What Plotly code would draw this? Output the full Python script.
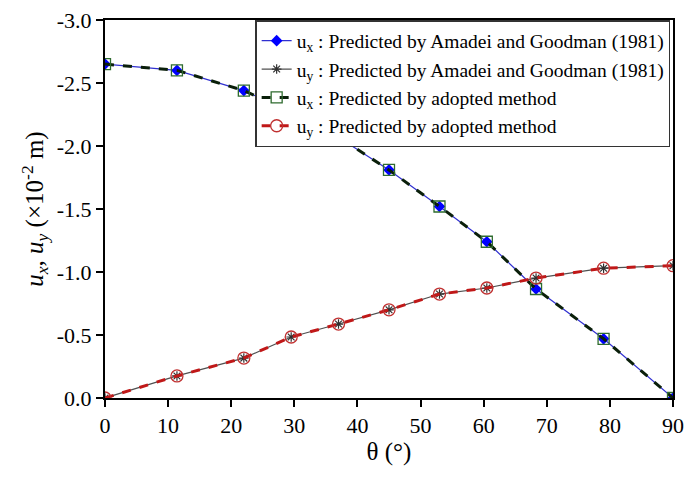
import plotly.graph_objects as go

theta = [0, 11.4, 22, 29.5, 37, 45, 53, 60.5, 68.3, 79, 90]
ux_amadei = [-2.65, -2.60, -2.44, -2.27, -2.07, -1.81, -1.52, -1.24, -0.865, -0.47, 0.0]
uy_amadei = [0.0, -0.175, -0.317, -0.484, -0.587, -0.70, -0.825, -0.873, -0.952, -1.03, -1.05]
ux_adopted = [-2.65, -2.60, -2.44, -2.27, -2.07, -1.81, -1.52, -1.24, -0.865, -0.47, 0.0]
uy_adopted = [0.0, -0.175, -0.317, -0.484, -0.587, -0.70, -0.825, -0.873, -0.952, -1.03, -1.05]

x_ticks = list(range(0, 91, 10))
y_ticks = [0.0, -0.5, -1.0, -1.5, -2.0, -2.5, -3.0]
y_tick_text = ["0.0", "-0.5", "-1.0", "-1.5", "-2.0", "-2.5", "-3.0"]

FONT = "Liberation Serif"

fig = go.Figure()
fig.add_trace(go.Scatter(
    x=theta, y=ux_amadei, mode="lines+markers",
    name="u<sub>x</sub> : Predicted by Amadei and Goodman (1981)",
    line=dict(color="#3030d0", width=1.2),
    marker=dict(symbol="diamond", size=9, color="#0000ff"),
))
fig.add_trace(go.Scatter(
    x=theta, y=uy_amadei, mode="lines+markers",
    name="u<sub>y</sub> : Predicted by Amadei and Goodman (1981)",
    line=dict(color="#505050", width=1.2),
    marker=dict(symbol="asterisk-open", size=8, color="#303030", line=dict(width=1.2, color="#303030")),
))
fig.add_trace(go.Scatter(
    x=theta, y=ux_adopted, mode="lines+markers",
    name="u<sub>x</sub> : Predicted by adopted method",
    line=dict(color="#0a1f0a", width=3, dash="dash"),
    marker=dict(symbol="square-open", size=11, color="#2e6b2e", line=dict(width=1.3, color="#2e6b2e")),
))
fig.add_trace(go.Scatter(
    x=theta, y=uy_adopted, mode="lines+markers",
    name="u<sub>y</sub> : Predicted by adopted method",
    line=dict(color="#c01818", width=3, dash="dash"),
    marker=dict(symbol="circle-open", size=12, color="#c03030", line=dict(width=1.3, color="#c03030")),
))

fig.update_layout(
    width=686, height=477,
    margin=dict(l=105, r=13, t=20, b=79, autoexpand=False),
    paper_bgcolor="white", plot_bgcolor="white",
    font=dict(family=FONT, color="black", size=20),
    showlegend=True,
    legend=dict(
        x=0.995, y=1.0, xanchor="right", yanchor="top",
        bgcolor="white", bordercolor="#333333", borderwidth=1.5,
        font=dict(family=FONT, size=19.5, color="black"),
        tracegroupgap=0, itemwidth=30,
    ),
    xaxis=dict(
        range=[0, 90], tickmode="array", tickvals=x_ticks,
        ticks="outside", ticklen=7, tickwidth=2, tickcolor="black",
        showline=True, linecolor="black", linewidth=2, mirror=True,
        showgrid=False, zeroline=False,
        tickfont=dict(family=FONT, size=22),
        title=dict(text="θ (°)", font=dict(family=FONT, size=25), standoff=4),
    ),
    yaxis=dict(
        range=[0, -3.0], tickmode="array", tickvals=y_ticks, ticktext=y_tick_text,
        ticks="outside", ticklen=7, tickwidth=2, tickcolor="black",
        showline=True, linecolor="black", linewidth=2, mirror=True,
        showgrid=False, zeroline=False,
        tickfont=dict(family=FONT, size=22),
        title=dict(text="<i>u<sub>x</sub></i>, <i>u<sub>y</sub></i> (×10<sup>-2</sup> m)",
                   font=dict(family=FONT, size=25), standoff=6),
    ),
)

fig.write_html("out.html")
